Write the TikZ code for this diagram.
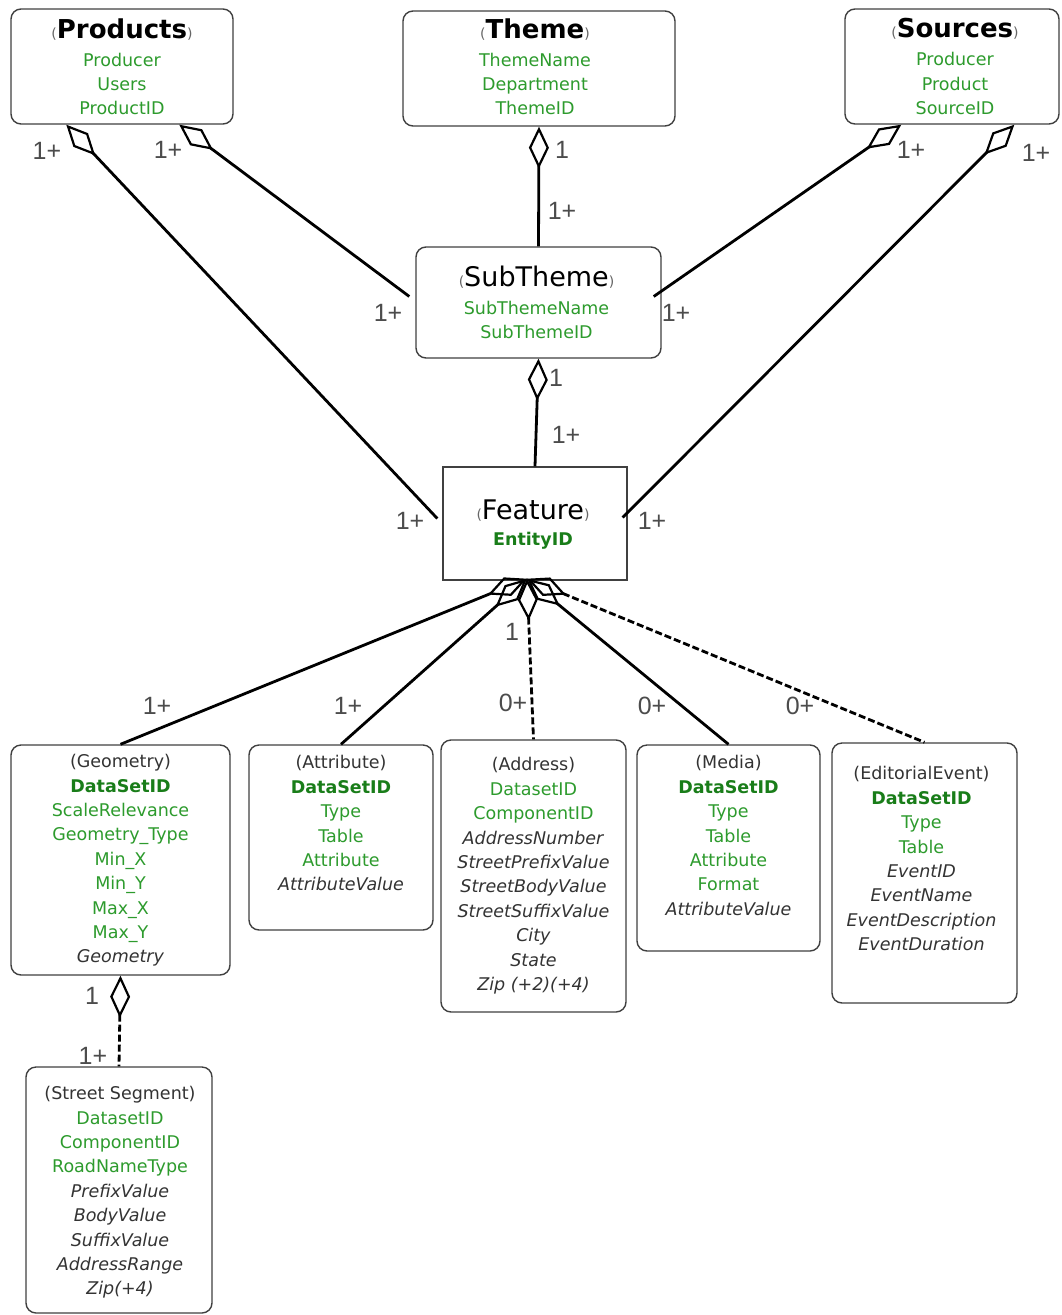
\documentclass[tikz,border=0pt]{standalone}
\usepackage{fontspec}
\setmainfont{DejaVu Sans}
\newfontfamily\lblfont{Liberation Sans}
\usetikzlibrary{arrows.meta,calc}
\definecolor{grn}{RGB}{45,155,45}
\definecolor{dgrn}{RGB}{25,125,25}
\newcommand{\gr}[1]{\textcolor{grn}{#1}}
\newcommand{\gb}[1]{\textcolor{dgrn}{\bfseries #1}}
\newcommand{\ii}[1]{\textit{#1}}
\newcommand{\smp}[1]{{\fontsize{14}{14}\selectfont\color{black!60}#1}}
\newcommand{\bigttl}[1]{\smp{(}{\fontsize{26}{26}\selectfont\bfseries\color{black} #1}\smp{)}}
\newcommand{\medttl}[1]{\smp{(}{\fontsize{27}{27}\selectfont\color{black} #1}\smp{)}}
\tikzset{
  box/.style={draw=black!75, line width=1.4pt, rounded corners=10pt, inner sep=0pt, fill=white},
  sqbox/.style={draw=black!75, line width=1.4pt, inner sep=0pt, fill=white},
  txt/.style={align=center, inner sep=0pt, anchor=north, font=\fontsize{17.5}{24.4}\selectfont, text=black!80},
  lbl/.style={font=\lblfont\fontsize{25}{25}\selectfont, text=black!70, inner sep=0pt},
  conn/.style={line width=2.8pt, black},
  agg/.style={conn, {Diamond[open, length=42pt, width=20pt, line width=2.2pt]}-},
  dsh/.style={dash pattern=on 7pt off 3pt}
}
\begin{document}
\begin{tikzpicture}[x=1pt,y=-1pt]
\useasboundingbox (0,0) rectangle (1061,1315);
% boxes
\node[box, minimum width=222pt, minimum height=115pt] (products) at (122,66.5) {};
\node[box, minimum width=272pt, minimum height=115pt] (theme) at (539,68.5) {};
\node[box, minimum width=214pt, minimum height=115pt] (sources) at (952,66.5) {};
\node[box, minimum width=245pt, minimum height=111pt] (subtheme) at (538.5,302.5) {};
\node[sqbox, minimum width=184pt, minimum height=113pt] (feature) at (535,523.5) {};
\node[box, minimum width=219pt, minimum height=230pt] (geometry) at (120.5,860) {};
\node[box, minimum width=184pt, minimum height=185pt] (attribute) at (341,837.5) {};
\node[box, minimum width=185pt, minimum height=272pt] (address) at (533.5,876) {};
\node[box, minimum width=183pt, minimum height=206pt] (media) at (728.5,848) {};
\node[box, minimum width=185pt, minimum height=260pt] (editorial) at (924.5,873) {};
\node[box, minimum width=186pt, minimum height=246pt] (street) at (119,1190) {};
% texts
\node[txt] (productst) at ($(products.north)+(0,10)$) {\bigttl{Products}\\[3.5pt]\gr{Producer}\\\gr{Users}\\\gr{ProductID}};
\node[txt] (themet) at ($(theme.north)+(-4,8)$) {\bigttl{Theme}\\[3.5pt]\gr{ThemeName}\\\gr{Department}\\\gr{ThemeID}};
\node[txt] (sourcest) at ($(sources.north)+(3,10)$) {\bigttl{Sources}\\[3.5pt]\gr{Producer}\\\gr{Product}\\\gr{SourceID}};
\node[txt] (subthemet) at ($(subtheme.north)+(-2,19)$) {\medttl{SubTheme}\\[4pt]\gr{SubThemeName}\\\gr{SubThemeID}};
\node[txt] (featuret) at ($(feature.north)+(-2,33)$) {\medttl{Feature}\\[2pt]\gb{EntityID}};
\node[txt] (geometryt) at ($(geometry.north)+(0,10)$) {(Geometry)\\\gb{DataSetID}\\\gr{ScaleRelevance}\\\gr{Geometry\_Type}\\\gr{Min\_X}\\\gr{Min\_Y}\\\gr{Max\_X}\\\gr{Max\_Y}\\\ii{Geometry}};
\node[txt] (attributet) at ($(attribute.north)+(0,11)$) {(Attribute)\\\gb{DataSetID}\\\gr{Type}\\\gr{Table}\\\gr{Attribute}\\\ii{AttributeValue}};
\node[txt] (addresst) at ($(address.north)+(0,18)$) {(Address)\\\gr{DatasetID}\\\gr{ComponentID}\\\ii{AddressNumber}\\\ii{StreetPrefixValue}\\\ii{StreetBodyValue}\\\ii{StreetSuffixValue}\\\ii{City}\\\ii{State}\\\ii{Zip (+2)(+4)}};
\node[txt] (mediat) at ($(media.north)+(0,11)$) {(Media)\\\gb{DataSetID}\\\gr{Type}\\\gr{Table}\\\gr{Attribute}\\\gr{Format}\\\ii{AttributeValue}};
\node[txt] (editorialt) at ($(editorial.north)+(-3,24)$) {(EditorialEvent)\\\gb{DataSetID}\\\gr{Type}\\\gr{Table}\\\ii{EventID}\\\ii{EventName}\\\ii{EventDescription}\\\ii{EventDuration}};
\node[txt] (streett) at ($(street.north)+(1,20)$) {(Street Segment)\\\gr{DatasetID}\\\gr{ComponentID}\\\gr{RoadNameType}\\\ii{PrefixValue}\\\ii{BodyValue}\\\ii{SuffixValue}\\\ii{AddressRange}\\\ii{Zip(+4)}};
% connectors
\draw[agg] ($(products.south west)+(56,0)$) -- ($(feature.west)+(-5,-5)$);
\draw[agg] ($(products.south west)+(169,0)$) -- ($(subtheme.west)+(-6,-6)$);
\draw[agg] (theme.south) -- (subtheme.north);
\draw[agg] ($(sources.south west)+(57,0)$) -- ($(subtheme.east)+(-8,-6)$);
\draw[agg] ($(sources.south west)+(170,0)$) -- ($(feature.east)+(-5,-6)$);
\draw[agg] (subtheme.south) -- (feature.north);
\coordinate (hub) at ($(feature.south)+(-8,-2)$);
\draw[agg] (hub) -- (geometry.north);
\draw[agg] (hub) -- (attribute.north);
\draw[agg, dsh] (hub) -- (address.north);
\draw[agg] (hub) -- (media.north);
\draw[agg, dsh] (hub) -- (editorial.north);
\draw[agg, dsh] (geometry.south) -- (street.north);
% multiplicity labels
\node[lbl] (m1) at (47,151) {1+};
\node[lbl] (m2) at (168,150) {1+};
\node[lbl] (m3) at (388,313) {1+};
\node[lbl] (m4) at (410,521) {1+};
\node[lbl] (m5) at (562,150) {1};
\node[lbl] (m6) at (562,211) {1+};
\node[lbl] (m7) at (911,150) {1+};
\node[lbl] (m8) at (1036,153) {1+};
\node[lbl] (m9) at (676,313) {1+};
\node[lbl] (m10) at (652,521) {1+};
\node[lbl] (m11) at (556,378) {1};
\node[lbl] (m12) at (566,435) {1+};
\node[lbl] (m13) at (157,706) {1+};
\node[lbl] (m14) at (348,706) {1+};
\node[lbl] (m15) at (513,703) {0+};
\node[lbl] (m16) at (512,632) {1};
\node[lbl] (m17) at (652,706) {0+};
\node[lbl] (m18) at (800,706) {0+};
\node[lbl] (m19) at (92,996) {1};
\node[lbl] (m20) at (93,1056) {1+};
\end{tikzpicture}
\end{document}
